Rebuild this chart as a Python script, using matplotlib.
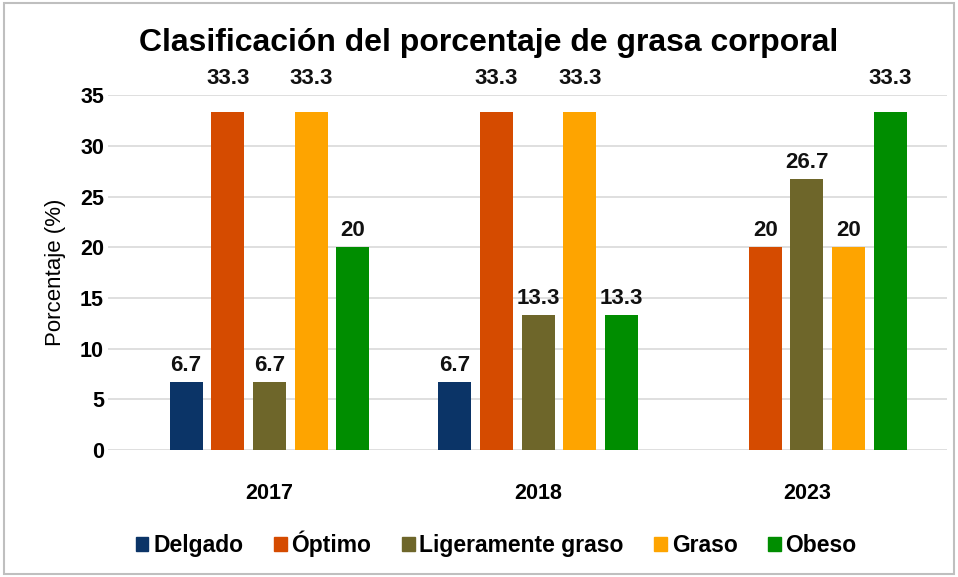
import numpy as np
import matplotlib.pyplot as plt
from matplotlib.patches import Rectangle, Patch

years = ["2017", "2018", "2023"]
categories = ["Delgado", "Óptimo", "Ligeramente graso", "Graso", "Obeso"]
delgado = [6.7, 6.7, 0]
optimo = [33.3, 33.3, 20]
ligeramente = [6.7, 13.3, 26.7]
graso = [33.3, 33.3, 20]
obeso = [20, 13.3, 33.3]
colors = ["#0b3467", "#d54b00", "#6e662a", "#fea400", "#008d00"]

series = [delgado, optimo, ligeramente, graso, obeso]

plt.rcParams["font.family"] = ["Liberation Sans", "DejaVu Sans"]

fig = plt.figure(figsize=(9.58, 5.77), dpi=100)
ax = fig.add_axes([0.113, 0.22, 0.875, 0.615])

x = np.arange(len(years))
width = 0.123
step = 0.155
for i, (vals, c) in enumerate(zip(series, colors)):
    pos = x + (i - 2) * step
    for p, v in zip(pos, vals):
        if v == 0:
            continue
        ax.bar(p, v, width=width, color=c, zorder=3)
        # labels of the tallest bars sit above the 35 line
        ly = v + 0.6 if v < 30 else 35.6
        ax.text(p, ly, f"{v:g}", ha="center", va="bottom",
                fontsize=16, fontweight="bold", color="#111111",
                clip_on=False)

ax.set_ylim(0, 35)
ax.set_yticks(range(0, 36, 5))
ax.set_xlim(-0.6, 2.52)
ax.set_xticks(x)
ax.set_xticklabels(years, fontsize=15.5, fontweight="bold")
for lab in ax.get_yticklabels():
    lab.set_fontsize(15.5)
    lab.set_fontweight("bold")
ax.tick_params(length=0, pad=3)
ax.tick_params(axis="x", pad=24)
ax.grid(axis="y", color="#d9d9d9", linewidth=1.2, zorder=0)
for s in ax.spines.values():
    s.set_visible(False)
ax.set_ylabel("Porcentaje (%)", fontsize=16, labelpad=10)

fig.text(0.51, 0.925, "Clasificación del porcentaje de grasa corporal",
         ha="center", va="center", fontsize=23, fontweight="bold")

handles = [Patch(color=c, label=n) for c, n in zip(colors, categories)]
fig.legend(handles=handles, loc="center", bbox_to_anchor=(0.518, 0.057), ncol=5,
           frameon=False, handlelength=0.55, handleheight=0.55,
           handletextpad=0.2, columnspacing=1.35,
           prop={"weight": "bold", "size": 16.5})

fig.patches.append(Rectangle((0.004, 0.006), 0.992, 0.988, transform=fig.transFigure,
                             fill=False, edgecolor="#bfbfbf", linewidth=1.5))

fig.savefig("out.png", dpi=100)
